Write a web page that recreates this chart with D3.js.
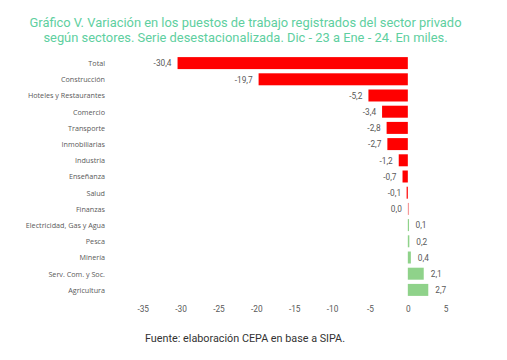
<!DOCTYPE html>
<html><head><meta charset="utf-8">
<script src="https://cdn.jsdelivr.net/npm/d3@7"></script>
<style>body{margin:0;background:#fff}svg{display:block}</style>
</head><body>
<svg id="c" width="507" height="360"></svg>
<script>
const categories = ["Total","Construcción","Hoteles y Restaurantes","Comercio","Transporte","Inmobiliarias","Industria","Enseñanza","Salud","Finanzas","Electricidad, Gas y Agua","Pesca","Minería","Serv. Com. y Soc.","Agricultura"];
const values = [-30.4,-19.7,-5.2,-3.4,-2.8,-2.7,-1.2,-0.7,-0.1,0.0,0.1,0.2,0.4,2.1,2.7];
const xTicks = [-35,-30,-25,-20,-15,-10,-5,0,5];
const titleLines = ["Gráfico V. Variación en los puestos de trabajo registrados del sector privado","según sectores. Serie desestacionalizada. Dic - 23 a Ene - 24. En miles."];
const source = "Fuente: elaboración CEPA en base a SIPA.";

const svg = d3.select("#c");
const x = d3.scaleLinear().domain([-35,5]).range([142.7,445.7]);
const y = d3.scaleBand().domain(categories).range([55,298]).paddingInner(0.26).paddingOuter(0.13);

svg.append("g").selectAll("text").data(titleLines).join("text")
  .attr("x",245.5).attr("y",(d,i)=>26.5+i*15.5).attr("text-anchor","middle")
  .attr("font-family","Roboto").attr("font-size",12.9).attr("fill","#5ecfa0").text(d=>d);

const fmt = v => v.toFixed(1).replace(".",",");
const data = categories.map((c,i)=>({c,v:values[i]}));

svg.append("g").selectAll("rect").data(data).join("rect")
  .attr("x",d=>d.v<0 ? x(d.v) - (Math.abs(x(d.v)-x(0))<1.2 ? 1.2-Math.abs(x(d.v)-x(0)) : 0) : x(0))
  .attr("width",d=>Math.max(1.2,Math.abs(x(d.v)-x(0))))
  .attr("y",d=>y(d.c)).attr("height",y.bandwidth())
  .attr("fill",d=>d.v<0 ? "#ff0000" : d.v===0 ? "#f49a9a" : "#8fd28a");

svg.append("g").selectAll("text").data(data).join("text")
  .attr("x",d=>d.v>0 ? x(d.v)+7 : x(Math.min(0,d.v))-6)
  .attr("y",d=>y(d.c)+y.bandwidth()/2+3.2)
  .attr("text-anchor",d=>d.v>0?"start":"end")
  .attr("font-family","Roboto").attr("font-size",8.3).attr("fill","#595959").text(d=>fmt(d.v));

svg.append("g").selectAll("text").data(categories).join("text")
  .attr("x",105).attr("y",d=>y(d)+y.bandwidth()/2+2.8).attr("text-anchor","end")
  .attr("font-family","Open Sans").attr("font-size",7.2).attr("fill","#595959").text(d=>d);

const ax = d3.axisBottom(x).tickValues(xTicks).tickSize(0).tickFormat(d=>d);
const g = svg.append("g").attr("transform","translate(0,303)").call(ax);
g.select(".domain").remove();
g.selectAll("text").attr("font-family","Roboto").attr("font-size",8.3).attr("fill","#595959");

svg.append("text").attr("x",145).attr("y",342).attr("font-family","Roboto").attr("font-size",10.8)
  .attr("fill","#333").text(source);
</script>
</body></html>
